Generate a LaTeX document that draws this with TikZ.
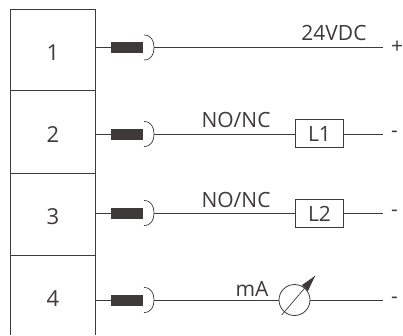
\documentclass[tikz,border=0pt]{standalone}
\usepackage{fontspec}
\setmainfont{Open Sans}
\usepackage{tikz}
\definecolor{wirecol}{HTML}{3E3A39}
\tikzset{
	termbox/.style={draw=wirecol,line width=1pt,minimum width=85pt,inner sep=0pt,outer sep=0pt},
	plug/.style={fill=wirecol,minimum width=32pt,minimum height=11pt,inner sep=0pt,outer sep=0pt},
	wire/.style={draw=wirecol,line width=1pt},
	load/.style={draw=wirecol,line width=1pt,minimum width=48pt,minimum height=27.5pt,inner sep=0pt,outer sep=0pt},
	lbl/.style={text=wirecol,inner sep=0pt,font=\fontsize{21}{24}\selectfont},
	numlbl/.style={text=wirecol,inner sep=0pt,font=\fontsize{22}{24}\selectfont}
}
\begin{document}
\begin{tikzpicture}[x=1pt,y=-1pt]
		\useasboundingbox (0,0) rectangle (403,335);
		\node[termbox,minimum height=81pt] (box1) at (52.5,50) {};
		\node[termbox,minimum height=82.5pt] (box2) at (52.5,131.75) {};
		\node[termbox,minimum height=82pt] (box3) at (52.5,214) {};
		\coordinate (box4sw) at (10,335);
		\coordinate (box4se) at (95,335);
		\draw[wire] (box3.south west) -- (box4sw);
		\draw[wire] (box3.south east) -- (box4se);
		\node[numlbl] (num1) at (53,53) {1};
		\node[numlbl] (num2) at (53,135) {2};
		\node[numlbl] (num3) at (53,217) {3};
		\node[numlbl] (num4) at (53,299) {4};
		\node[plug] (plug1) at (127,47.5) {};
		\node[plug] (plug2) at (127,134) {};
		\node[plug] (plug3) at (127,213) {};
		\node[plug] (plug4) at (127,300) {};
		\coordinate (cup1) at (154,47.5);
		\coordinate (cup2) at (154,134);
		\coordinate (cup3) at (154,213);
		\coordinate (cup4) at (154,300);
		\draw[wire,line width=.7pt] (cup1) ++(-10,-12.5) .. controls ++(7,0) and ++(0,-7) .. (cup1) .. controls ++(0,7) and ++(7,0) .. ++(-10,12.5);
		\draw[wire,line width=.7pt] (cup2) ++(-10,-12.5) .. controls ++(7,0) and ++(0,-7) .. (cup2) .. controls ++(0,7) and ++(7,0) .. ++(-10,12.5);
		\draw[wire,line width=.7pt] (cup3) ++(-10,-12.5) .. controls ++(7,0) and ++(0,-7) .. (cup3) .. controls ++(0,7) and ++(7,0) .. ++(-10,12.5);
		\draw[wire,line width=.7pt] (cup4) ++(-10,-12.5) .. controls ++(7,0) and ++(0,-7) .. (cup4) .. controls ++(0,7) and ++(7,0) .. ++(-10,12.5);
		\draw[wire] (box1.east |- plug1) -- (plug1);
		\draw[wire] (box2.east |- plug2) -- (plug2);
		\draw[wire] (box3.east |- plug3) -- (plug3);
		\draw[wire] (box3.east |- plug4) -- (plug4);
		\node[load] (lamp1) at (319.5,133.5) {};
		\node[load] (lamp2) at (319.5,213.25) {};
		\node[lbl] (lamptext1) at (319.5,134) {L1};
		\node[lbl] (lamptext2) at (319.5,214) {L2};
		\node[draw=wirecol,line width=.8pt,circle,minimum size=31pt,inner sep=0pt,outer sep=0pt] (meter) at (294.5,300) {};
		\coordinate (needletail) at (281.7,315);
		\coordinate (needletip) at (315,276);
		\draw[wire,line width=.7pt] (needletail) -- (needletip);
		\fill[wirecol] (needletip) -- (302,285) -- (308,291) -- cycle;
		\coordinate (end1) at (383,47.5);
		\coordinate (end2) at (383,134);
		\coordinate (end3) at (383,213);
		\coordinate (end4) at (383,300);
		\draw[wire] (cup1) -- (end1);
		\draw[wire] (cup2) -- (lamp1.west |- cup2);
		\draw[wire] (lamp1.east |- end2) -- (end2);
		\draw[wire] (cup3) -- (lamp2.west |- cup3);
		\draw[wire] (lamp2.east |- end3) -- (end3);
		\draw[wire] (cup4) -- (meter.west |- cup4);
		\draw[wire] (meter.east |- end4) -- (end4);
		\node[lbl] (volt) at (334,33) {24VDC};
		\node[lbl] (contact1) at (236,119.5) {NO/NC};
		\node[lbl] (contact2) at (236,200) {NO/NC};
		\node[lbl] (current) at (252,289) {mA};
		\node[lbl] (sign1) at (397,47) {+};
		\node[lbl] (sign2) at (394.5,134) {-};
		\node[lbl] (sign3) at (394.5,213) {-};
		\node[lbl] (sign4) at (394.5,300) {-};
	\end{tikzpicture}
\end{document}
